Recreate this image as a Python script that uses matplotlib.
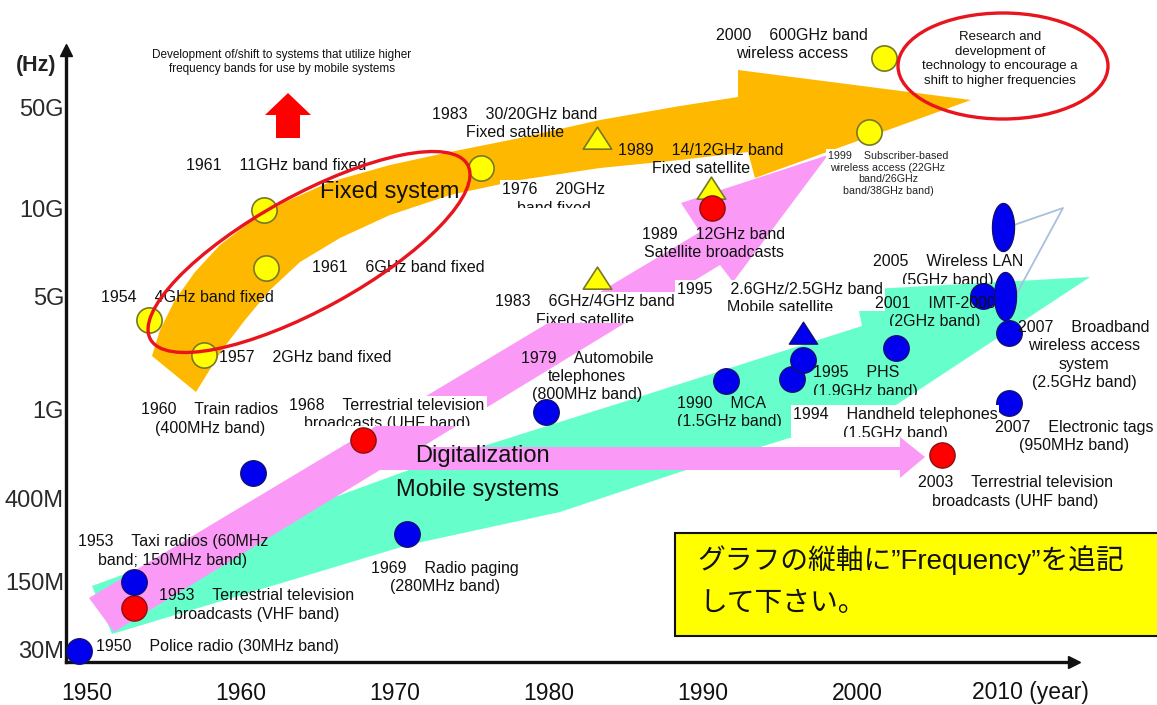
import numpy as np
import matplotlib
matplotlib.use("Agg")
import matplotlib.pyplot as plt
from matplotlib.patches import Polygon, Ellipse, Rectangle
from matplotlib.transforms import (Affine2D, Bbox, TransformedBbox,
                                   blended_transform_factory, offset_copy)
from matplotlib.path import Path

plt.rcParams['font.family'] = ['Liberation Sans', 'Noto Sans CJK JP', 'DejaVu Sans']

# ---------------- data ----------------
freq_ticks = [30e6, 150e6, 400e6, 1e9, 5e9, 10e9, 50e9]
freq_tick_labels = ['30M', '150M', '400M', '1G', '5G', '10G', '50G']
year_ticks = [1950, 1960, 1970, 1980, 1990, 2000, 2010]
year_tick_labels = ['1950', '1960', '1970', '1980', '1990', '2000', '2010 (year)']

# fixed systems (yellow circles)
fixed_years = [1954.0, 1957.6, 1961.6, 1961.5, 1975.6, 2000.8, 2001.75]
fixed_freqs = [3.7e9, 2.25e9, 6.4e9, 10.2e9, 20e9, 35e9, 115e9]
# fixed satellite (yellow triangles)
fixed_sat_years = [1983.1, 1983.1, 1990.5]
fixed_sat_freqs = [32e9, 5.9e9, 14.4e9]
# broadcasting (red circles)
broadcast_years = [1953.05, 1967.9, 1990.6, 2005.5]
broadcast_freqs = [85e6, 750e6, 10.5e9, 640e6]
# mobile systems (blue circles)
mobile_years = [1949.45, 1953.05, 1960.8, 1970.8, 1979.8, 1991.5, 1995.8,
                1996.5, 2002.5, 2008.2, 2009.9, 2009.9]
mobile_freqs = [31e6, 154e6, 535e6, 270e6, 1.0e9, 1.55e9, 1.6e9,
                2.1e9, 2.5e9, 5.1e9, 3.1e9, 1.14e9]
# mobile satellite (blue triangle)
mobile_sat_years = [1996.5]
mobile_sat_freqs = [3.1e9]
# wireless LAN (blue ellipses)
wlan_years = [2009.5, 2009.6]
wlan_freqs = [8.8e9, 5.1e9]

# ---------------- layout ----------------
W, H = 1157, 705
TICK_PX = [652, 584, 501, 412, 299, 211, 110]   # pixel rows of the frequency ticks
X1950, PX_PER_YEAR = 87.0, 15.4


def yr(px):
    return 1950 + (px - X1950) / PX_PER_YEAR


LOGT = np.log10(freq_ticks)
POSU = H - np.array(TICK_PX, float)


def _lin_ext(x, xp, fp):
    x = np.asarray(x, dtype=float)
    y = np.interp(x, xp, fp)
    y = np.where(x < xp[0], fp[0] + (x - xp[0]) * (fp[1] - fp[0]) / (xp[1] - xp[0]), y)
    y = np.where(x > xp[-1], fp[-1] + (x - xp[-1]) * (fp[-1] - fp[-2]) / (xp[-1] - xp[-2]), y)
    return y


def f2u(f):
    with np.errstate(divide='ignore', invalid='ignore'):
        lf = np.log10(np.clip(np.asarray(f, dtype=float), 1e-12, None))
    return _lin_ext(lf, LOGT, POSU)


def u2f(u):
    with np.errstate(over='ignore'):
        return 10 ** _lin_ext(u, POSU, LOGT)


fig = plt.figure(figsize=(W / 100, H / 100), dpi=100)
ax = fig.add_axes([66 / W, (H - 662) / H, (1074 - 66) / W, (662 - 50) / H])
ax.set_yscale('function', functions=(f2u, u2f))
ax.set_xlim(yr(66), yr(1074))
ax.set_ylim(float(u2f(H - 662)), float(u2f(H - 50)))
ax.set_xticks([])
ax.set_yticks([])
ax.yaxis.set_minor_locator(matplotlib.ticker.NullLocator())
ax.xaxis.set_minor_locator(matplotlib.ticker.NullLocator())
ax.patch.set_alpha(0)
for s in ['top', 'right']:
    ax.spines[s].set_visible(False)
for s in ['left', 'bottom']:
    ax.spines[s].set_linewidth(2.4)
    ax.spines[s].set_color('#111111')
    ax.spines[s].set_zorder(2)
ax.plot([1], [0], marker='>', ms=8, color='#111111', transform=ax.transAxes, clip_on=False, zorder=2)
ax.plot([0], [1], marker='^', ms=8, color='#111111', transform=ax.transAxes, clip_on=False, zorder=2)

# pixel transform for the illustration layer (y downward)
pix = Affine2D().scale(1 / W, -1 / H).translate(0, 1) + fig.transFigure

# axis labels
ty = blended_transform_factory(pix, ax.transData)
for f, lab in zip(freq_ticks, freq_tick_labels):
    ax.text(64, f, lab, transform=ty, ha='right', va='center', fontsize=17,
            color='#2a2a2a', clip_on=False)
tx = blended_transform_factory(ax.transData, pix)
for yv, lab in zip(year_ticks, year_tick_labels):
    tr = tx if '(' not in lab else offset_copy(tx, fig=fig, x=19, y=0, units='dots')
    ax.text(yv, 693, lab, transform=tr, ha='center', va='center', fontsize=16.5,
            color='#111111', clip_on=False)
ax.text(36, 65, '(Hz)', transform=pix, ha='center', va='center', fontsize=15.5,
        fontweight='bold', color='#222222')

# ---------------- big arrows ----------------
GREEN, PINK, ORANGE = '#66FFCC', '#FA9AF6', '#FFB800'
green_pts = [(92, 586), (417, 467), (620, 403), (862, 326), (855, 290), (1090, 277),
             (896, 405), (680, 472), (560, 512), (408, 545), (112, 634)]
orange_pts = [(152, 356), (160, 330), (175, 300), (195, 272), (220, 245), (250, 222),
              (285, 202), (330, 182), (390, 165), (450, 152), (520, 138), (600, 120),
              (680, 106), (738, 97), (738, 70), (971, 100), (755, 178), (748, 152),
              (680, 160), (600, 168), (520, 180), (450, 195), (390, 215), (340, 238),
              (300, 262), (270, 290), (245, 320), (222, 350), (196, 392)]
pink_pts = [(89, 598), (700, 232), (681, 203), (828, 155), (733, 282), (720, 265),
            (422, 447), (900, 447), (900, 437), (925, 457), (900, 478), (900, 470),
            (380, 470), (114, 632)]
for pts, col in [(green_pts, GREEN), (orange_pts, ORANGE), (pink_pts, PINK)]:
    ax.add_patch(Polygon(pts, closed=True, transform=pix, facecolor=col,
                         edgecolor='none', zorder=1, clip_on=False))

# red upward arrow
ax.add_patch(Polygon([(265, 115), (288, 93), (311, 115), (300, 115), (300, 138),
                      (276, 138), (276, 115)], closed=True, transform=pix,
                     facecolor='#FF0000', edgecolor='none', zorder=1, clip_on=False))

# ---------------- labels ----------------
def clip_fig(c):
    # keep everything above pixel row c
    return TransformedBbox(Bbox.from_extents(0, 1 - c / H, 1, 1), fig.transFigure)


def label(txt, x, y, size=11.5, clip=None, box=False, ha='center', color='#111111',
          ls=1.26, z=5.1, **kw):
    t = ax.text(x, y, txt, transform=pix, ha=ha, va='center', multialignment=ha,
                fontsize=size, color=color, zorder=z, clip_on=False, linespacing=ls, **kw)
    if box:
        t.set_bbox(dict(facecolor='white', edgecolor='none', pad=1.5))
    if clip is not None:
        t.set_clip_path(None)
        t.set_clip_on(True)
        t.set_clip_box(clip_fig(clip))
    return t


labels = [
    ("1961    11GHz band fixed", 276, 165, None, False, 'center'),
    ("1961    6GHz band fixed", 398, 267, None, False, 'center'),
    ("1954    4GHz band fixed", 187, 297, None, False, 'center'),
    ("1957    2GHz band fixed", 305, 358, None, False, 'center'),
    ("1983    30/20GHz band\nFixed satellite", 515, 123.5, None, False, 'center'),
    ("1976    20GHz\nband fixed", 554, 199, 208, True, 'center'),
    ("1989    14/12GHz band\nFixed satellite", 701, 159.5, None, False, 'center'),
    ("2000    600GHz band\nwireless access", 792, 44.5, None, False, 'center'),
    ("1989    12GHz band\nSatellite broadcasts", 714, 243.5, None, False, 'center'),
    ("1983    6GHz/4GHz band\nFixed satellite", 585, 311, 323, True, 'center'),
    ("1995    2.6GHz/2.5GHz band\nMobile satellite", 780, 298.5, 311, True, 'center'),
    ("2005    Wireless LAN\n(5GHz band)", 948, 271, 284, False, 'center'),
    ("2001    IMT-2000\n(2GHz band)", 935, 312.5, 326, False, 'center'),
    ("2007    Broadband\nwireless access\nsystem\n(2.5GHz band)", 1084, 355, None, False, 'center'),
    ("1995    PHS\n(1.9GHz band)", 813, 382, 395, False, 'left'),
    ("1990    MCA\n(1.5GHz band)", 677, 412.5, 426, False, 'left'),
    ("1994    Handheld telephones\n(1.5GHz band)", 895, 424, 437, True, 'center'),
    ("2007    Electronic tags\n(950MHz band)", 1074, 436.5, None, False, 'center'),
    ("2003    Terrestrial television\nbroadcasts (UHF band)", 1015, 492, None, False, 'center'),
    ("1979    Automobile\ntelephones\n(800MHz band)", 587, 376.5, None, False, 'center'),
    ("1960    Train radios\n(400MHz band)", 210, 419, None, False, 'center'),
    ("1968    Terrestrial television\nbroadcasts (UHF band)", 387, 414.5, 426, True, 'center'),
    ("1953    Taxi radios (60MHz\nband; 150MHz band)", 173, 551, None, False, 'center'),
    ("1953    Terrestrial television\nbroadcasts (VHF band)", 257, 605, None, False, 'center'),
    ("1950    Police radio (30MHz band)", 218, 646, None, False, 'center'),
    ("1969    Radio paging\n(280MHz band)", 445, 577.5, None, False, 'center'),
]
for txt, x, y, c, b, ha in labels:
    label(txt, x, y, clip=c, box=b, ha=ha)

label("1999    Subscriber-based\nwireless access (22GHz\nband/26GHz\nband/38GHz band)",
      888, 173.5, size=7.7, box=True, color='#222222', ls=1.23)
label("Research and\ndevelopment of\ntechnology to encourage a\nshift to higher frequencies",
      1000, 59, size=9.5, ls=1.33)
label("Development of/shift to systems that utilize higher\nfrequency bands for use by mobile systems",
      282, 62, size=8.5, ls=1.23)
label("Fixed system", 390, 192, size=17, z=3)
label("Digitalization", 482, 456, size=17, z=3)
label("Mobile systems", 477, 490, size=17, z=3)

# ---------------- markers ----------------
tri = Path([(0, 0.8), (-1, -0.75), (1, -0.75), (0, 0.8)], closed=True)
th = np.linspace(0, 2 * np.pi, 64)
ell = Path(np.c_[0.46 * np.cos(th), np.sin(th)], closed=True)

ax.scatter(fixed_years, fixed_freqs, s=330, marker='o', facecolor='#FFFF00',
           edgecolor='#77772a', linewidth=1.2, zorder=5, clip_on=False)
ax.scatter(fixed_sat_years, fixed_sat_freqs, s=420, marker=tri, facecolor='#FFFF00',
           edgecolor='#77772a', linewidth=1.2, zorder=5, clip_on=False)
ax.scatter(broadcast_years, broadcast_freqs, s=330, marker='o', facecolor='#FF0000',
           edgecolor='#8a1010', linewidth=1.0, zorder=5, clip_on=False)
ax.scatter(mobile_years, mobile_freqs, s=340, marker='o', facecolor='#0000EE',
           edgecolor='#10106a', linewidth=0.9, zorder=5, clip_on=False)
ax.scatter(mobile_sat_years, mobile_sat_freqs, s=420, marker=tri, facecolor='#0000EE',
           edgecolor='#10106a', linewidth=0.9, zorder=5, clip_on=False)
ax.scatter(wlan_years, wlan_freqs, s=1200, marker=ell, facecolor='#0000EE',
           edgecolor='#10106a', linewidth=0.9, zorder=5.2, clip_on=False)

ax.plot([1014, 1063, 1017], [225, 208, 293], transform=pix, color='#a8c0dc',
        lw=1.3, zorder=4.5, clip_on=False)

# ---------------- red ellipses ----------------
ax.add_patch(Ellipse((309, 252), 362, 114, angle=-28.8, transform=pix, facecolor='none',
                     edgecolor='#E8141E', lw=2.4, zorder=6, clip_on=False))
ax.add_patch(Ellipse((1003, 66), 210, 106, angle=0, transform=pix, facecolor='none',
                     edgecolor='#E8141E', lw=2.4, zorder=6, clip_on=False))

# ---------------- yellow note box ----------------
ax.add_patch(Rectangle((675, 533), 520, 103, transform=pix, facecolor='#FFFF00',
                       edgecolor='#111111', lw=1.5, zorder=7, clip_on=False))
ax.text(697, 560, 'グラフの縦軸に”Frequency”を追記', transform=pix, ha='left', va='center',
        fontsize=20, zorder=8, family=['Liberation Sans', 'Noto Sans CJK JP'], color='#111111')
ax.text(699, 603, 'して下さい。', transform=pix, ha='left', va='center',
        fontsize=20, zorder=8, family=['Noto Sans CJK JP'], color='#111111')

fig.savefig('out.png', dpi=100)
